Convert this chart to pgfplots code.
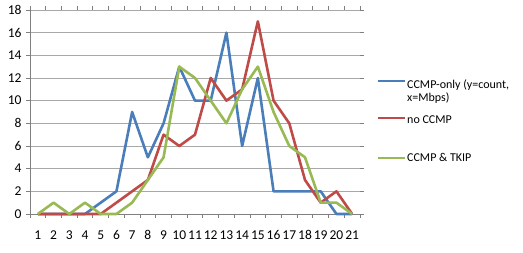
\documentclass[border=0pt]{standalone}
\usepackage{pgfplots}
\pgfplotsset{compat=1.18}
\usepackage{fontspec}
\setmainfont{Carlito}
\definecolor{cblue}{HTML}{4A7EBB}
\definecolor{cred}{HTML}{BE4B48}
\definecolor{cgreen}{HTML}{98B954}
\definecolor{cgrid}{HTML}{A8A8A8}
\begin{document}
\begin{tikzpicture}
\useasboundingbox (-30pt,-39pt) rectangle (493pt,214pt);
\begin{axis}[
  at={(0pt,0pt)}, anchor=south west,
  scale only axis, width=330pt, height=204pt,
  xmin=0.5, xmax=21.5, ymin=0, ymax=18,
  xtick={1,...,21}, ytick={0,2,...,18},
  minor xtick={0.5,1.5,...,21.5},
  axis line style={draw=none},
  major x tick style={draw=none},
  minor x tick style={draw=gray, line width=0.9pt},
  minor tick length=4pt,
  y tick style={draw=gray, line width=0.9pt},
  major tick length=4pt,
  tick align=outside,
  ymajorgrids, grid style={cgrid, line width=0.9pt},
  tick label style={font=\fontsize{13.5}{15}\selectfont},
  /pgf/number format/assume math mode=true,
  xticklabel style={yshift=-9pt},
  yticklabel style={xshift=-1pt},
  clip=false,
  every axis plot/.append style={line width=2.6pt, line join=round},
]
\draw[gray, line width=0.9pt] (axis cs:0.5,0) -- (axis cs:0.5,18);
\draw[gray, line width=0.9pt] (axis cs:0.5,0) -- (axis cs:21.5,0);
\addplot[cblue] coordinates {(1,0)(2,0)(3,0)(4,0)(5,1)(6,2)(7,9)(8,5)(9,8)(10,13)(11,10)(12,10)(13,16)(14,6)(15,12)(16,2)(17,2)(18,2)(19,2)(20,0)(21,0)};
\addplot[cred] coordinates {(1,0)(2,0)(3,0)(4,0)(5,0)(6,1)(7,2)(8,3)(9,7)(10,6)(11,7)(12,12)(13,10)(14,11)(15,17)(16,10)(17,8)(18,3)(19,1)(20,2)(21,0)};
\addplot[cgreen] coordinates {(1,0)(2,1)(3,0)(4,1)(5,0)(6,0)(7,1)(8,3)(9,5)(10,13)(11,12)(12,10)(13,8)(14,11)(15,13)(16,9)(17,6)(18,5)(19,1)(20,1)(21,0)};
\end{axis}
\begin{scope}[every node/.style={anchor=base west, inner sep=0pt, font=\fontsize{12}{14.5}\selectfont}]
\draw[cblue, line width=2.5pt] (348pt,133pt) -- (375pt,133pt);
\node at (377pt,125pt) {CCMP-only (y=count,};
\node at (377pt,112pt) {x=Mbps)};
\draw[cred, line width=2.5pt] (348pt,96pt) -- (375pt,96pt);
\node at (377pt,90pt) {no CCMP};
\draw[cgreen, line width=2.5pt] (348pt,56pt) -- (375pt,56pt);
\node at (377pt,52pt) {CCMP \& TKIP};
\end{scope}
\end{tikzpicture}
\end{document}
